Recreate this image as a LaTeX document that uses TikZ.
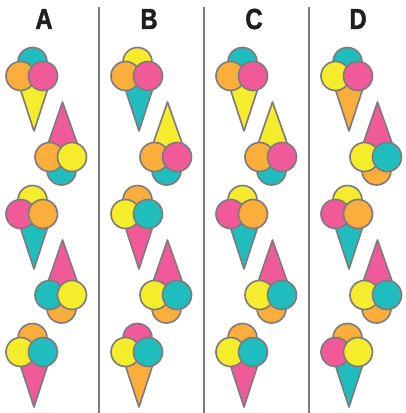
\documentclass[tikz,border=0pt]{standalone}
\usepackage{fontspec}
\setmainfont{Liberation Sans}
\newfontfamily\headfont[FakeBold=1.6,FakeStretch=0.82]{Liberation Sans Bold}
\definecolor{teal}{HTML}{20BDBE}
\definecolor{orng}{HTML}{FBAE3C}
\definecolor{pnk}{HTML}{F15A99}
\definecolor{yel}{HTML}{F5EC2B}
\definecolor{edge}{HTML}{7F7B7C}
\tikzset{
  scoop/.style={draw=edge,line width=1.65pt,fill=#1},
  divider/.style={draw=edge,line width=1.7pt},
  heading/.style={font=\headfont\fontsize{29}{29}\selectfont,text=black!88,inner sep=0pt}
}
% upright cone: x offset, y offset, top, left, right, cone
\newcommand{\upcone}[6]{%
  \begin{scope}[shift={(#1,#2)}]
    \path[scoop=#3] (32.5,62) circle[radius=14.5];
    \path[scoop=#6,line join=round] (16,76) -- (34,131) -- (52,76) -- cycle;
    \path[scoop=#4] (20.5,76) circle[radius=14.5];
    \path[scoop=#5] (43,76) circle[radius=14.5];
  \end{scope}}
% inverted cone: x offset, y offset, cone, left, right, bottom
\newcommand{\downcone}[6]{%
  \begin{scope}[shift={(#1,#2)}]
    \path[scoop=#3,line join=round] (43.5,157) -- (62.5,102) -- (82,157) -- cycle;
    \path[scoop=#6] (61.5,170.5) circle[radius=14.5];
    \path[scoop=#4] (49.5,157) circle[radius=14.5];
    \path[scoop=#5] (72,157) circle[radius=14.5];
  \end{scope}}
\begin{document}
\begin{tikzpicture}[x=1pt,y=-1pt]
\useasboundingbox (0,0) rectangle (405,413);
\fill[white] (0,0) rectangle (405,413);
\foreach \x in {99,204,309} \draw[divider] (\x,7) -- (\x,413);
\node[heading] (la) at (44,19) {A};
\node[heading] (lb) at (149,19) {B};
\node[heading] (lc) at (254,19) {C};
\node[heading] (ld) at (358,19) {D};
% column A
\upcone{0}{0}{teal}{orng}{pnk}{yel}
\downcone{0}{0}{pnk}{orng}{yel}{teal}
\upcone{0}{138}{yel}{pnk}{orng}{teal}
\downcone{0}{138}{pnk}{teal}{yel}{orng}
\upcone{0}{276}{orng}{yel}{teal}{pnk}
% column B
\upcone{105}{0}{yel}{orng}{pnk}{teal}
\downcone{105}{0}{yel}{orng}{pnk}{teal}
\upcone{105}{138}{orng}{yel}{teal}{pnk}
\downcone{105}{138}{pnk}{yel}{teal}{orng}
\upcone{105}{276}{pnk}{yel}{teal}{orng}
% column C
\upcone{210}{0}{teal}{orng}{pnk}{yel}
\downcone{210}{0}{yel}{orng}{pnk}{teal}
\upcone{210}{138}{yel}{pnk}{orng}{teal}
\downcone{210}{138}{pnk}{yel}{teal}{orng}
\upcone{210}{276}{orng}{yel}{teal}{pnk}
% column D
\upcone{315}{0}{teal}{yel}{pnk}{orng}
\downcone{315}{0}{pnk}{yel}{teal}{orng}
\upcone{315}{138}{yel}{pnk}{orng}{teal}
\downcone{315}{138}{pnk}{yel}{teal}{orng}
\upcone{315}{276}{orng}{pnk}{yel}{teal}
\end{tikzpicture}
\end{document}
